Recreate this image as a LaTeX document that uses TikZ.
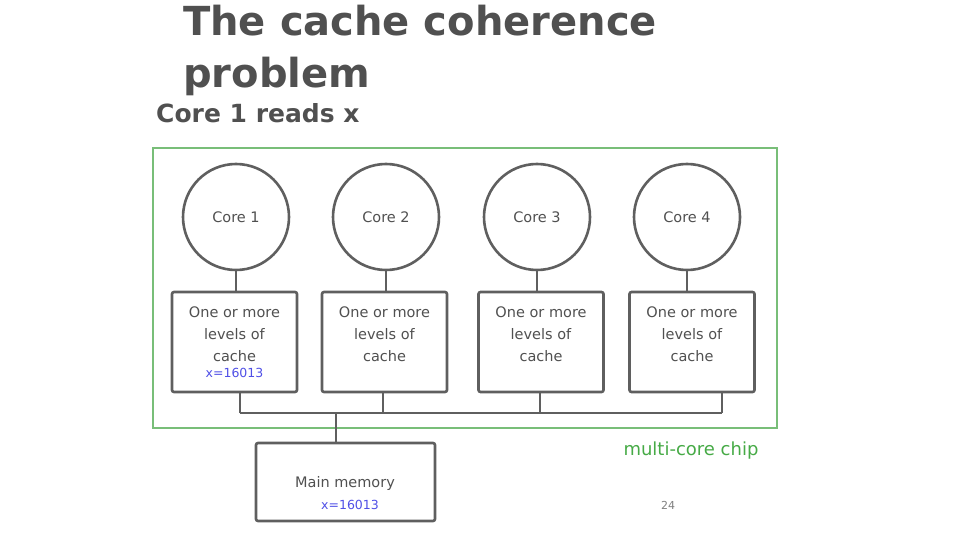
\documentclass[tikz,border=0pt]{standalone}
\usepackage{fontspec}
\setmainfont{DejaVu Sans}
\definecolor{linegray}{RGB}{95,95,95}
\definecolor{titlegray}{RGB}{80,80,80}
\definecolor{chipgreen}{RGB}{120,190,120}
\definecolor{textgreen}{RGB}{70,170,70}
\definecolor{valblue}{RGB}{80,80,230}
\newcommand{\valtext}[1]{\textcolor{valblue}{\fontsize{12.5}{14}\selectfont #1}}
\begin{document}
\begin{tikzpicture}[x=1pt,y=-1pt,
  conn/.style={draw=linegray,line width=2.6pt},
  corenode/.style={circle,draw=linegray,line width=2.6pt,minimum size=106pt,inner sep=0pt,font=\fontsize{14.5}{16}\selectfont,text=titlegray},
  cachebox/.style={draw=linegray,line width=2.6pt,rounded corners=2pt,minimum width=125pt,minimum height=100pt,inner sep=0pt,font=\fontsize{14.5}{22}\selectfont,text=titlegray,align=center},
  membox/.style={draw=linegray,line width=2.6pt,rounded corners=2pt,minimum width=179pt,minimum height=78pt,inner sep=0pt},
  titletext/.style={anchor=base west,inner sep=0pt,text=titlegray,font=\fontsize{40}{48}\selectfont\bfseries}]
\useasboundingbox (0,0) rectangle (960,540);
% title
\node[titletext] (title1) at (183,36) {The cache coherence};
\node[titletext] (title2) at (183,88) {problem};
\node[anchor=base west,inner sep=0pt,text=titlegray,font=\fontsize{25}{28}\selectfont\bfseries] (sub) at (156,123) {Core 1 reads x};
% chip
\node[draw=chipgreen,line width=2.6pt,minimum width=624pt,minimum height=280pt,inner sep=0pt] (chip) at (465,288) {};
\node[text=textgreen,font=\fontsize{18}{20}\selectfont,inner sep=0pt] (chiplabel) at (691,451) {multi-core chip};
% cores
\foreach \i/\x in {1/236,2/386,3/537,4/687}{
  \node[corenode] (core\i) at (\x,217) {Core \i};
}
\node[cachebox] (cache1) at (234.5,342) {One or more\\levels of\\cache\\[-6pt]\valtext{x=16013}};
\node[cachebox] (cache2) at (384.5,342) {One or more\\levels of\\cache\\[-6pt]\valtext{\phantom{x=16013}}};
\node[cachebox] (cache3) at (541,342) {One or more\\levels of\\cache\\[-6pt]\valtext{\phantom{x=16013}}};
\node[cachebox] (cache4) at (692,342) {One or more\\levels of\\cache\\[-6pt]\valtext{\phantom{x=16013}}};
\foreach \i in {1,...,4}{
  \draw[conn] (core\i.south) -- (core\i.south |- cache\i.north);
}
% bus
\coordinate (b1) at (240,413);
\coordinate (b2) at (383,413);
\coordinate (b3) at (540,413);
\coordinate (b4) at (722,413);
\coordinate (bm) at (336,413);
\draw[conn] (b1) -- (b4);
\draw[conn] (b1) -- (b1 |- cache1.south);
\draw[conn] (b2) -- (b2 |- cache2.south);
\draw[conn] (b3) -- (b3 |- cache3.south);
\draw[conn] (b4) -- (b4 |- cache4.south);
% memory
\node[membox] (mem) at (345.5,482) {};
\node[text=titlegray,font=\fontsize{14.5}{16}\selectfont,inner sep=0pt] (memtext) at (345,483) {Main memory};
\node[inner sep=0pt] (memval) at (350,505) {\valtext{x=16013}};
\draw[conn] (bm) -- (bm |- mem.north);
% page number
\node[text=gray,font=\fontsize{11}{12}\selectfont,inner sep=0pt] (page) at (668,505) {24};
\end{tikzpicture}
\end{document}
